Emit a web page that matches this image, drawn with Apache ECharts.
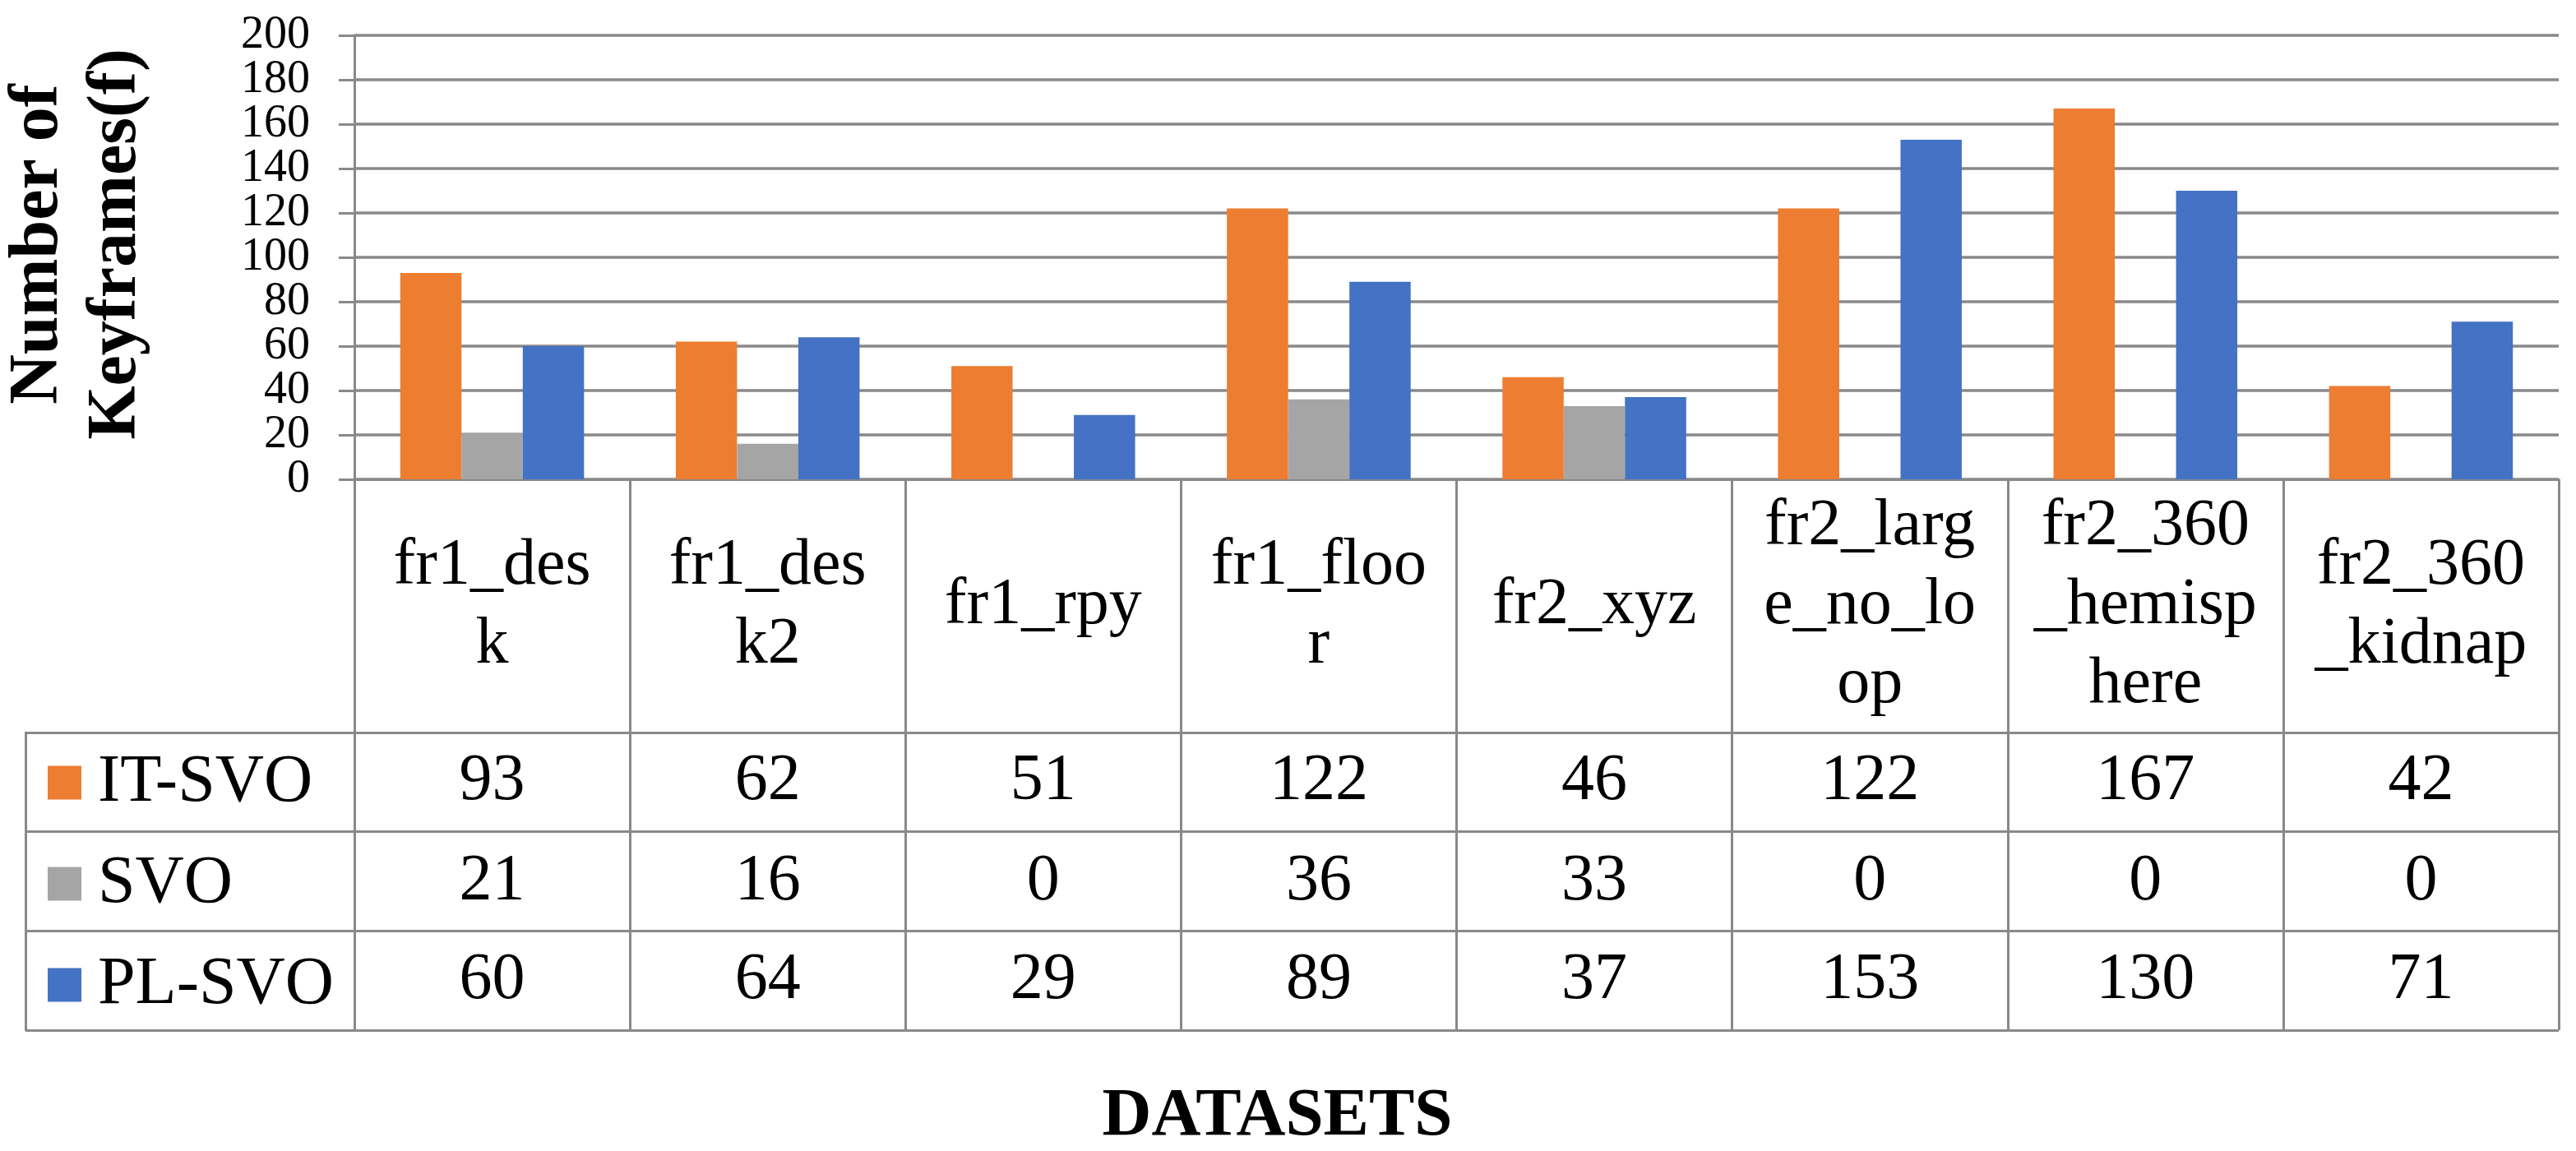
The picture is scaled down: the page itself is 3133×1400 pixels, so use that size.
<!DOCTYPE html>
<html>
<head>
<meta charset="utf-8">
<script src="https://cdn.jsdelivr.net/npm/echarts@6/dist/echarts.min.js"></script>
<style>
html,body{margin:0;padding:0;background:#fff;}
#c{width:3133px;height:1400px;}
</style>
</head>
<body>
<div id="c"></div>
<script>
const categories = ['fr1_des\nk', 'fr1_des\nk2', 'fr1_rpy', 'fr1_floo\nr', 'fr2_xyz', 'fr2_larg\ne_no_lo\nop', 'fr2_360\n_hemisp\nhere', 'fr2_360\n_kidnap'];
const seriesNames = ['IT-SVO', 'SVO', 'PL-SVO'];
const itSvo = [93, 62, 51, 122, 46, 122, 167, 42];
const svo = [21, 16, 0, 36, 33, 0, 0, 0];
const plSvo = [60, 64, 29, 89, 37, 153, 130, 71];
const yTickLabels = ['0', '20', '40', '60', '80', '100', '120', '140', '160', '180', '200'];
const yTicks = {min: 0, max: 200, interval: 20};
const colors = ['#ED7D31', '#A5A5A5', '#4472C4'];
const seriesValues = [itSvo, svo, plSvo];

const FONT = '"Liberation Serif", "Times New Roman", serif';
const LINE = '#898989';

const chart = echarts.init(document.getElementById('c'));

function valueAxis(arr, offset) {
  return {
    type: 'category', gridIndex: 0, position: 'bottom', offset: offset,
    data: categories,
    axisLine: {show: false}, axisTick: {show: false}, splitLine: {show: false},
    axisLabel: {
      interval: 0, margin: 0, verticalAlign: 'middle',
      fontFamily: FONT, fontSize: 80, color: '#000',
      formatter: (v, i) => String(arr[i])
    }
  };
}

const option = {
  backgroundColor: '#fff',
  animation: false,
  color: colors,
  grid: [
    {left: 431, right: 21, top: 43, bottom: 817, containLabel: false, outerBoundsMode: 'none'},
    {left: 31, right: 21, top: 891, bottom: 147, containLabel: false, outerBoundsMode: 'none'}
  ],
  legend: {
    data: seriesNames, orient: 'vertical', left: 58, top: 911, padding: 0,
    itemWidth: 41, itemHeight: 41, itemGap: 41, icon: 'rect',
    textStyle: {fontFamily: FONT, fontSize: 82, color: '#000', padding: [0, 0, 0, 15]},
    selectedMode: false
  },
  xAxis: [
    {
      type: 'category', gridIndex: 0, data: categories,
      axisLine: {show: true, lineStyle: {color: LINE, width: 3}},
      axisTick: {show: true, length: 670, lineStyle: {color: LINE, width: 3}},
      axisLabel: {
        interval: 0, margin: 154, verticalAlign: 'middle',
        fontFamily: FONT, fontSize: 80, lineHeight: 96, color: '#000'
      },
      splitLine: {show: false}
    },
    valueAxis(itSvo, 368),
    valueAxis(svo, 490),
    valueAxis(plSvo, 610),
    {
      type: 'value', gridIndex: 1, min: 0, max: 1,
      axisLine: {show: false}, axisTick: {show: false}, axisLabel: {show: false}, splitLine: {show: false},
      name: 'DATASETS', nameLocation: 'middle', nameGap: 64,
      nameTextStyle: {fontFamily: FONT, fontSize: 83, fontWeight: 'bold', color: '#000', padding: [0, 36, 0, 0]}
    }
  ],
  yAxis: [
    {
      type: 'value', gridIndex: 0, min: yTicks.min, max: yTicks.max, interval: yTicks.interval,
      axisLine: {show: true, lineStyle: {color: LINE, width: 3}},
      axisTick: {show: true, length: 19, lineStyle: {color: LINE, width: 3}},
      axisLabel: {show: false},
      splitLine: {show: true, lineStyle: {color: LINE, width: 3.5}},
      name: 'Number of\nKeyframes(f)', nameLocation: 'middle', nameRotate: 90, nameGap: 241,
      nameTextStyle: {fontFamily: FONT, fontSize: 84, fontWeight: 'bold', color: '#000', lineHeight: 95, padding: [0, 0, 0, 32]}
    },
    {
      type: 'category', gridIndex: 1, data: seriesNames, inverse: true,
      axisLine: {show: true, lineStyle: {color: LINE, width: 3}},
      axisTick: {show: false}, axisLabel: {show: false},
      splitLine: {show: true, lineStyle: {color: LINE, width: 3}}
    },
    {
      type: 'category', gridIndex: 0, position: 'left', data: yTickLabels, boundaryGap: false,
      axisLine: {show: false}, axisTick: {show: false}, splitLine: {show: false},
      axisLabel: {interval: 0, margin: 54, fontFamily: FONT, fontSize: 56, color: '#000'}
    }
  ],
  series: seriesNames.map((name, k) => ({
    name: name, type: 'bar', xAxisIndex: 0, yAxisIndex: 0,
    data: seriesValues[k],
    barGap: '0%', barCategoryGap: '33.3%',
    itemStyle: {color: colors[k]}
  }))
};
chart.setOption(option);
</script>
</body>
</html>
